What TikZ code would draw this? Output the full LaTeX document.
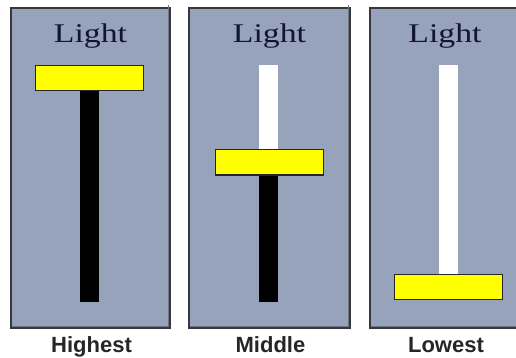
\documentclass[tikz,border=0pt]{standalone}
\usepackage{fontspec}
\usepackage{graphicx}
\setmainfont{Liberation Serif}
\newfontfamily\capfont{Liberation Sans}
\usetikzlibrary{positioning}

\definecolor{panelbg}{RGB}{150,163,186}
\definecolor{paneledge}{RGB}{55,55,60}
\definecolor{panelshade}{RGB}{110,118,135}
\definecolor{titleink}{RGB}{18,20,48}
\definecolor{barfill}{RGB}{255,255,0}

\tikzset{
  panel/.style={draw=paneledge, line width=1.4pt, fill=panelbg, inner sep=0pt, minimum height=320pt},
  knob/.style={draw=black!85, line width=1pt, fill=barfill, inner sep=0pt, minimum width=108pt, minimum height=25pt},
  title/.style={text=titleink, font=\fontsize{27}{30}\selectfont, inner sep=0pt, anchor=base},
  caption/.style={text=black!85, font=\capfont\bfseries\fontsize{22}{26}\selectfont, inner sep=0pt, anchor=base}
}

\begin{document}
\begin{tikzpicture}[x=1pt, y=-1pt]
        \useasboundingbox (0,0) rectangle (516,358);
        % one panel per slider position
        \foreach \px/\pw/\tx/\by/\tb/\cap/\n in {90.5/159/89/78.5/302/Highest/a,
                                                 269.5/161/268.5/162.5/302/Middle/b,
                                                 445/150/448/287/287/Lowest/c} {
          \node [panel, minimum width=\pw pt] (panel\n) at (\px,168) {};
          \draw [panelshade, line width=1.2pt] ([xshift=-2pt,yshift=2pt]panel\n.north east) -- ([xshift=-2pt,yshift=2pt]panel\n.south east) -- ([xshift=2pt,yshift=2pt]panel\n.south west);
          \node [title] (title\n) at (\px,43) {\scalebox{1.25}[1]{Light}};
          % track: white above the knob, black below
          \fill [white] (\tx-9.5,65) rectangle (\tx+9.5,\by);
          \fill [black] (\tx-9.5,\by) rectangle (\tx+9.5,\tb);
          \node [knob] (knob\n) at (\tx+0.5,\by) {};
          \node [caption] (caption\n) at (\px+1,352) {\cap};
        }
\end{tikzpicture}
\end{document}
